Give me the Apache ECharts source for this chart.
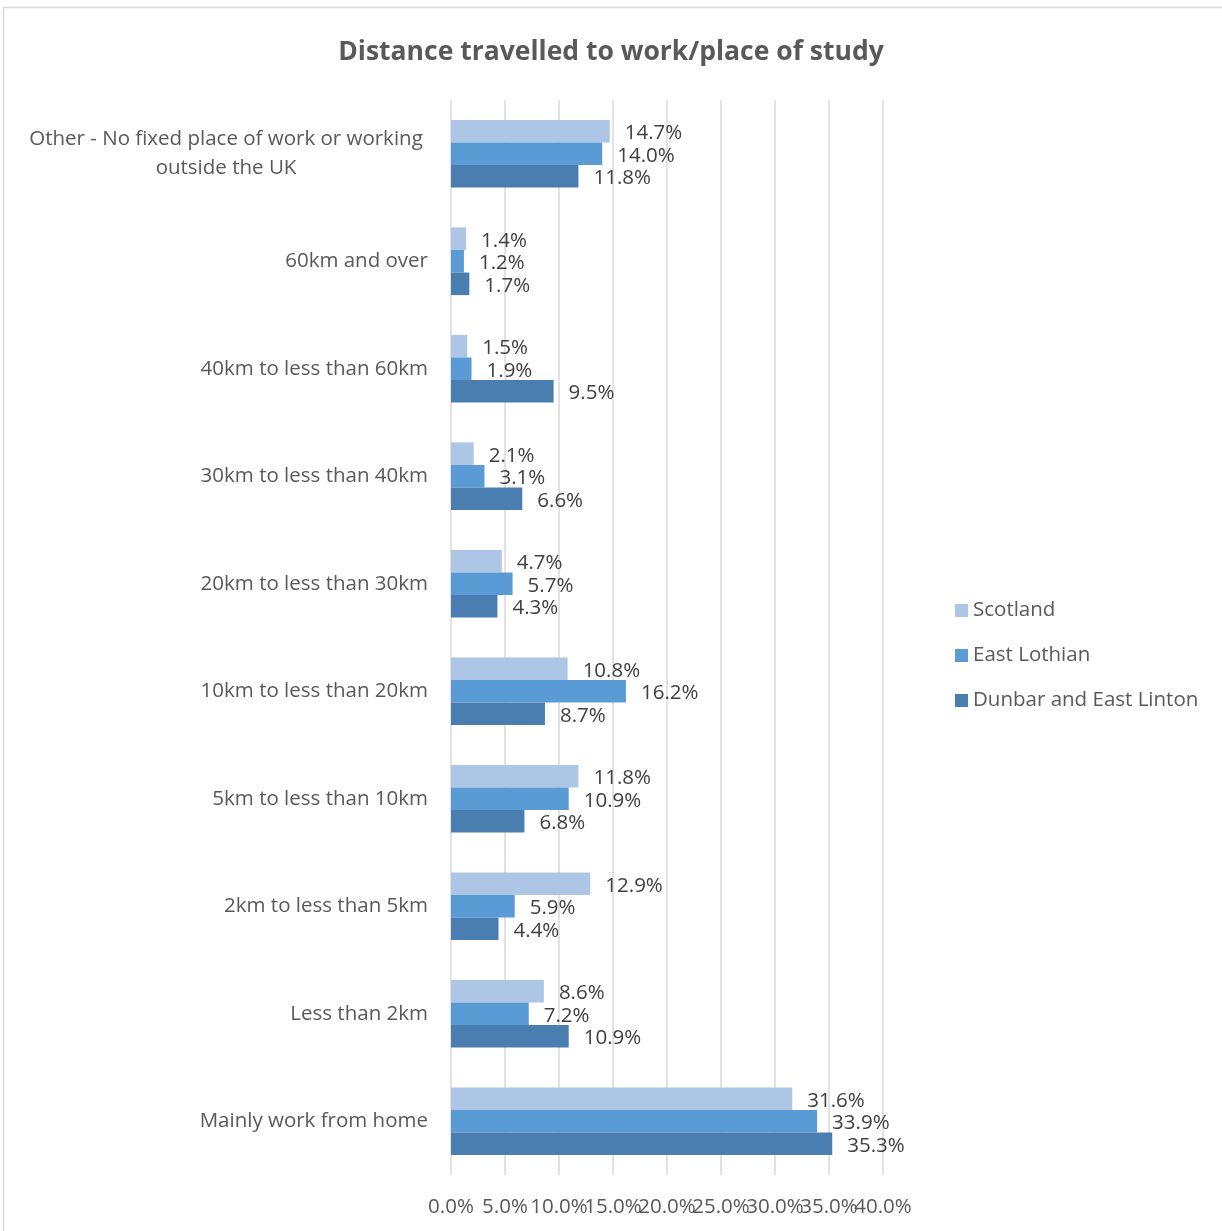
<!DOCTYPE html>
<html>
<head>
<meta charset="utf-8">
<script src="https://cdn.jsdelivr.net/npm/echarts@6/dist/echarts.min.js"></script>
<style>
html,body{margin:0;padding:0;background:#fff;}
#chart{width:1222px;height:1231px;}
</style>
</head>
<body>
<div id="chart"></div>
<script>
const categories = [
  "Mainly work from home",
  "Less than 2km",
  "2km to less than 5km",
  "5km to less than 10km",
  "10km to less than 20km",
  "20km to less than 30km",
  "30km to less than 40km",
  "40km to less than 60km",
  "60km and over",
  "Other - No fixed place of work or working\noutside the UK"
];
const scotland = [31.6, 8.6, 12.9, 11.8, 10.8, 4.7, 2.1, 1.5, 1.4, 14.7];
const eastLothian = [33.9, 7.2, 5.9, 10.9, 16.2, 5.7, 3.1, 1.9, 1.2, 14.0];
const dunbar = [35.3, 10.9, 4.4, 6.8, 8.7, 4.3, 6.6, 9.5, 1.7, 11.8];
const xTicks = [0, 5, 10, 15, 20, 25, 30, 35, 40];

const FONT = '"Open Sans", sans-serif';
const FS = 20.5;
const XMIN = xTicks[0], XMAX = xTicks[xTicks.length - 1];
const chart = echarts.init(document.getElementById('chart'));
const labelCfg = {
  show: true, position: 'right', distance: 15, offset: [0, 2],
  color: '#404040', fontSize: FS, fontFamily: FONT,
  formatter: p => p.value.toFixed(1) + '%'
};
function mk(name, data, color) {
  return {
    name, type: 'bar', data, barGap: '0%', barCategoryGap: '37%',
    itemStyle: { color }, label: labelCfg
  };
}
const axisLabelBase = { color: '#595959', fontSize: FS, fontFamily: FONT, margin: 22, hideOverlap: false };
chart.setOption({
  animation: false,
  title: {
    text: 'Distance travelled to work/place of study',
    left: 'center', top: 34,
    textStyle: { color: '#595959', fontSize: 26.5, fontWeight: 'bold', fontFamily: FONT }
  },
  graphic: [{
    type: 'rect', shape: { x: 3.5, y: 7.5, width: 1240, height: 1240 },
    style: { fill: 'none', stroke: '#d9d9d9', lineWidth: 1.5 }, silent: true
  }],
  legend: {
    orient: 'vertical', left: 950, top: 595, itemWidth: 13, itemHeight: 13, itemGap: 24,
    icon: 'rect',
    data: ['Scotland', 'East Lothian', 'Dunbar and East Linton'],
    textStyle: { color: '#595959', fontSize: FS, fontFamily: FONT }
  },
  grid: { left: 451, right: 339, top: 100, bottom: 56, containLabel: false },
  xAxis: [{
    type: 'value', min: XMIN, max: XMAX, interval: 5, position: 'bottom',
    axisLine: { show: false }, axisTick: { show: false },
    splitLine: { lineStyle: { color: '#d9d9d9', width: 1.5 } },
    axisLabel: Object.assign({}, axisLabelBase, {
      showMinLabel: true, showMaxLabel: false,
      formatter: v => v.toFixed(1) + '%'
    })
  }, {
    type: 'value', min: XMIN, max: XMAX, interval: 5, position: 'bottom', offset: 0,
    axisLine: { show: false }, axisTick: { show: false }, splitLine: { show: false },
    axisLabel: Object.assign({}, axisLabelBase, {
      showMinLabel: true, showMaxLabel: true,
      formatter: v => v === XMAX ? v.toFixed(1) + '%' : ''
    })
  }],
  yAxis: {
    type: 'category', data: categories,
    axisLine: { show: false }, axisTick: { show: false },
    axisLabel: {
      color: '#595959', fontSize: FS, fontFamily: FONT, margin: 23, lineHeight: 29,
      formatter: v => v.indexOf('\n') >= 0 ? v.split('\n').map(s => '{c|' + s + '}').join('\n') : v,
      rich: { c: { width: 404, align: 'center', color: '#595959', fontSize: FS, fontFamily: FONT, lineHeight: 29 } }
    }
  },
  series: [
    mk('Scotland', scotland, '#aec6e6'),
    mk('East Lothian', eastLothian, '#5b9bd5'),
    mk('Dunbar and East Linton', dunbar, '#4a7eb0')
  ]
});
</script>
</body>
</html>
